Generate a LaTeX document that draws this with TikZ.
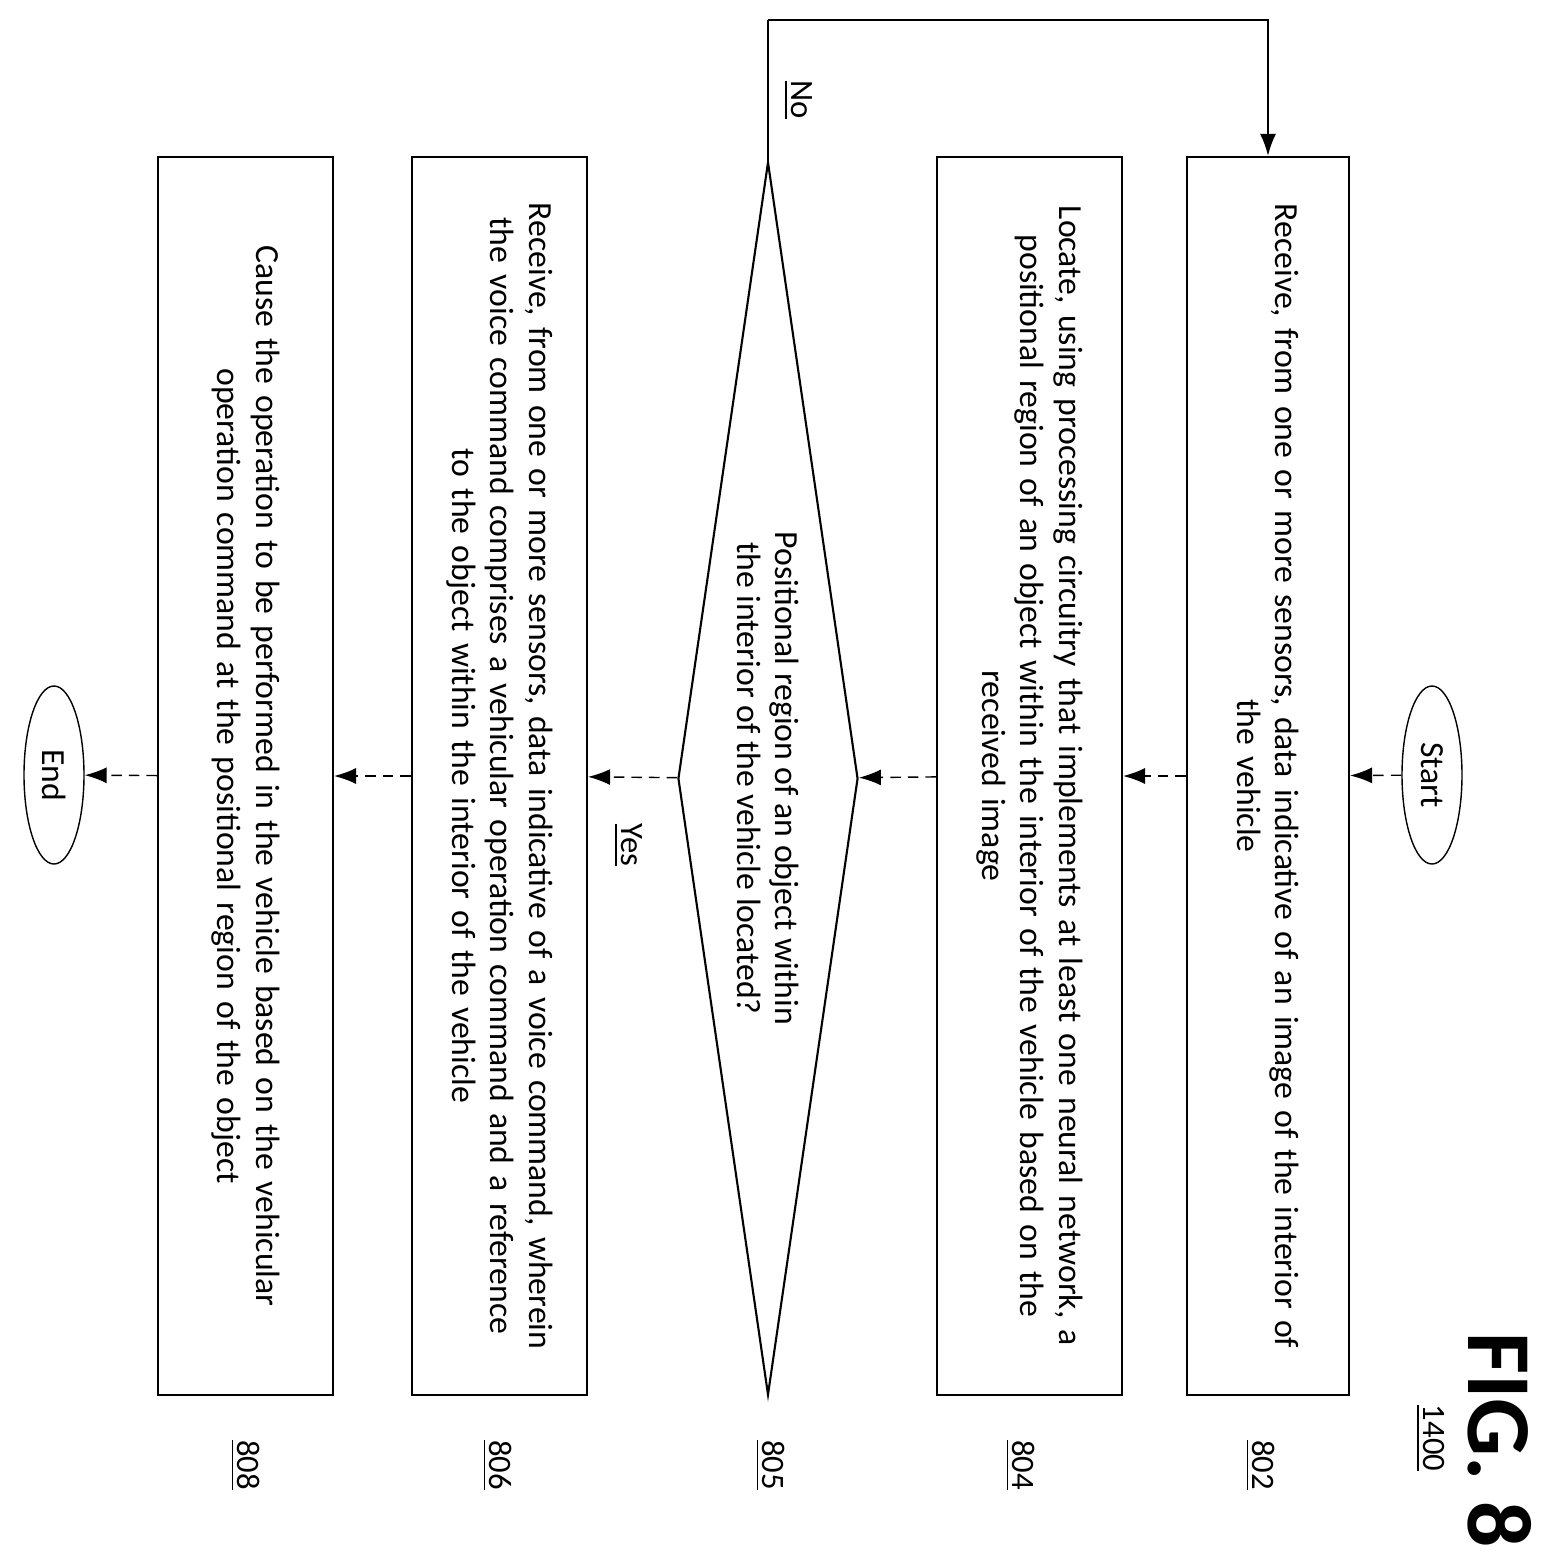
\documentclass[tikz,border=0pt]{standalone}
\usepackage{fontspec}
\setmainfont{Carlito}
\usetikzlibrary{shapes.geometric,arrows.meta}
\begin{document}
\begin{tikzpicture}[
    every node/.style={rotate=-90,font=\fontsize{9.6}{11}\selectfont},
    stepbox/.style={draw,semithick,minimum width=12.38cm,minimum height=1.62cm,text width=11.8cm,align=center,inner sep=0pt},
    term/.style={draw,ellipse,minimum width=1.78cm,minimum height=0.6cm,inner sep=0pt},
    flow/.style={densely dashed,-{Latex[length=2.2mm,width=1.6mm]}},
    tag/.style={font=\fontsize{9.3}{11}\selectfont}]
    \useasboundingbox (0,0) rectangle (15.49,-15.61);

    \node[term] (start) at (14.32,-7.75) {Start};
    \node[stepbox] (b802) at (12.68,-7.76) {Receive, from one or more sensors, data indicative of an image of the interior of\\the vehicle};
    \node[stepbox,minimum height=1.85cm] (b804) at (10.295,-7.76) {Locate, using processing circuitry that implements at least one neural network, a\\positional region of an object within the interior of the vehicle based on the\\received image};
    \node[draw,semithick,diamond,aspect=6.85,minimum width=12.33cm,minimum height=1.8cm,inner sep=0pt,align=center] (d805) at (7.68,-7.785)
        {Positional region of an object within\\the interior of the vehicle located?};
    \node[stepbox,minimum height=1.75cm] (b806) at (4.995,-7.76) {Receive, from one or more sensors, data indicative of a voice command, wherein\\the voice command comprises a vehicular operation command and a reference\\to the object within the interior of the vehicle};
    \node[stepbox,minimum height=1.75cm] (b808) at (2.455,-7.76) {Cause the operation to be performed in the vehicle based on the vehicular\\operation command at the positional region of the object};
    \node[term] (end) at (0.54,-7.75) {End};

    % step numbers
    \node[tag] (n802) at (12.6,-14.65) {\underline{802}};
    \node[tag] (n804) at (10.2,-14.65) {\underline{804}};
    \node[tag] (n805) at (7.7,-14.65) {\underline{805}};
    \node[tag] (n806) at (4.97,-14.65) {\underline{806}};
    \node[tag] (n808) at (2.45,-14.65) {\underline{808}};
    \node[tag] (n1400) at (14.3,-14.38) {\underline{1400}};
    \node[font=\fontsize{26}{30}\bfseries] (fig) at (15.0,-14.4) {FIG. 8};

    \draw[flow] (start) -- (b802);
    \draw[flow] (b802) -- (b804);
    \draw[flow] (b804) -- (d805);
    \draw[flow] (d805) -- (b806);
    \draw[flow] (b806) -- (b808);
    \draw[flow] (b808) -- (end);
    \coordinate (top) at (7.68,-0.2);
    \draw[semithick] (d805.west) -- (top);
    \draw[flow,solid,semithick] (top) -| (b802.west);

    \node[tag] (no) at (7.98,-1.0) {\underline{No}};
    \node[tag] (yes) at (6.28,-8.45) {\underline{Yes}};
\end{tikzpicture}
\end{document}
